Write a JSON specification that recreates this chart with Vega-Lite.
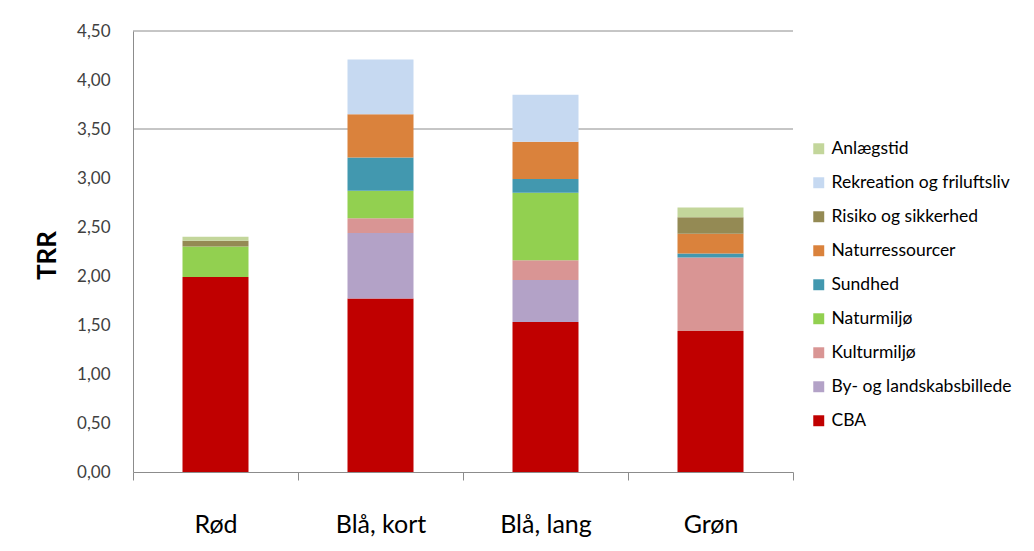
{
  "$schema": "https://vega.github.io/schema/vega-lite/v6.json",
  "width": 660,
  "height": 441,
  "autosize": "none",
  "padding": {"left": 133, "top": 31, "right": 241, "bottom": 79},
  "background": "white",
  "config": {
    "locale": {"number": {"decimal": ",", "thousands": ".", "grouping": [3], "currency": ["", " kr"]}},
    "view": {"stroke": null},
    "font": "Lato"
  },
  "datasets": {
    "bars": [
      {"scenarie": "Rød", "kategori": "CBA", "ord": 1, "trr": 1.99},
      {"scenarie": "Rød", "kategori": "Naturmiljø", "ord": 4, "trr": 0.31},
      {"scenarie": "Rød", "kategori": "Risiko og sikkerhed", "ord": 7, "trr": 0.06},
      {"scenarie": "Rød", "kategori": "Anlægstid", "ord": 9, "trr": 0.04},
      {"scenarie": "Blå, kort", "kategori": "CBA", "ord": 1, "trr": 1.77},
      {"scenarie": "Blå, kort", "kategori": "By- og landskabsbillede", "ord": 2, "trr": 0.67},
      {"scenarie": "Blå, kort", "kategori": "Kulturmiljø", "ord": 3, "trr": 0.15},
      {"scenarie": "Blå, kort", "kategori": "Naturmiljø", "ord": 4, "trr": 0.28},
      {"scenarie": "Blå, kort", "kategori": "Sundhed", "ord": 5, "trr": 0.34},
      {"scenarie": "Blå, kort", "kategori": "Naturressourcer", "ord": 6, "trr": 0.44},
      {"scenarie": "Blå, kort", "kategori": "Rekreation og friluftsliv", "ord": 8, "trr": 0.56},
      {"scenarie": "Blå, lang", "kategori": "CBA", "ord": 1, "trr": 1.53},
      {"scenarie": "Blå, lang", "kategori": "By- og landskabsbillede", "ord": 2, "trr": 0.43},
      {"scenarie": "Blå, lang", "kategori": "Kulturmiljø", "ord": 3, "trr": 0.20},
      {"scenarie": "Blå, lang", "kategori": "Naturmiljø", "ord": 4, "trr": 0.69},
      {"scenarie": "Blå, lang", "kategori": "Sundhed", "ord": 5, "trr": 0.14},
      {"scenarie": "Blå, lang", "kategori": "Naturressourcer", "ord": 6, "trr": 0.38},
      {"scenarie": "Blå, lang", "kategori": "Rekreation og friluftsliv", "ord": 8, "trr": 0.48},
      {"scenarie": "Grøn", "kategori": "CBA", "ord": 1, "trr": 1.44},
      {"scenarie": "Grøn", "kategori": "Kulturmiljø", "ord": 3, "trr": 0.75},
      {"scenarie": "Grøn", "kategori": "Sundhed", "ord": 5, "trr": 0.04},
      {"scenarie": "Grøn", "kategori": "Naturressourcer", "ord": 6, "trr": 0.20},
      {"scenarie": "Grøn", "kategori": "Risiko og sikkerhed", "ord": 7, "trr": 0.17},
      {"scenarie": "Grøn", "kategori": "Anlægstid", "ord": 9, "trr": 0.10}
    ],
    "grid": [{"v": 3.5}, {"v": 4.5}]
  },
  "layer": [
    {
      "data": {"name": "grid"},
      "mark": {"type": "rule", "color": "#8C8C8C", "strokeWidth": 1},
      "encoding": {"y": {"field": "v", "type": "quantitative", "scale": {"domain": [0, 4.5]}}}
    },
    {
      "data": {"name": "bars"},
      "mark": {"type": "bar", "width": {"band": 0.4}},
      "encoding": {
        "x": {
          "field": "scenarie", "type": "nominal",
          "sort": ["Rød", "Blå, kort", "Blå, lang", "Grøn"],
          "scale": {"paddingInner": 0, "paddingOuter": 0},
          "axis": {
            "title": null, "labelAngle": 0, "labelFontSize": 25, "labelColor": "#000000",
            "tickBand": "extent", "tickSize": 8, "tickColor": "#8C8C8C", "domainColor": "#8C8C8C",
            "labelPadding": 32
          }
        },
        "y": {
          "field": "trr", "type": "quantitative", "stack": "zero",
          "scale": {"domain": [0, 4.5], "nice": false},
          "axis": {
            "title": "TRR", "format": ".2f", "values": [0, 0.5, 1, 1.5, 2, 2.5, 3, 3.5, 4, 4.5],
            "grid": false, "ticks": false, "domainColor": "#8C8C8C",
            "labelFontSize": 17, "labelColor": "#404040", "labelPadding": 23,
            "titleFontSize": 26, "titleFontWeight": "bold", "titleColor": "#000000",
            "titleX": -86, "titleY": 224, "titleAngle": -90, "titleAlign": "center", "titleBaseline": "middle"
          }
        },
        "color": {
          "field": "kategori", "type": "nominal",
          "scale": {
            "domain": ["Anlægstid", "Rekreation og friluftsliv", "Risiko og sikkerhed", "Naturressourcer", "Sundhed", "Naturmiljø", "Kulturmiljø", "By- og landskabsbillede", "CBA"],
            "range": ["#C3D69B", "#C6D9F1", "#948A54", "#DA823C", "#4298AF", "#92D050", "#D99594", "#B3A2C7", "#C00000"]
          },
          "legend": {
            "title": null, "orient": "none", "legendX": 677, "legendY": 109,
            "symbolType": "square", "symbolSize": 120, "symbolStrokeWidth": 0,
            "labelFontSize": 17.5, "labelColor": "#000000", "rowPadding": 15, "labelOffset": 4, "labelLimit": 400
          }
        },
        "order": {"field": "ord", "type": "quantitative"}
      }
    }
  ]
}
